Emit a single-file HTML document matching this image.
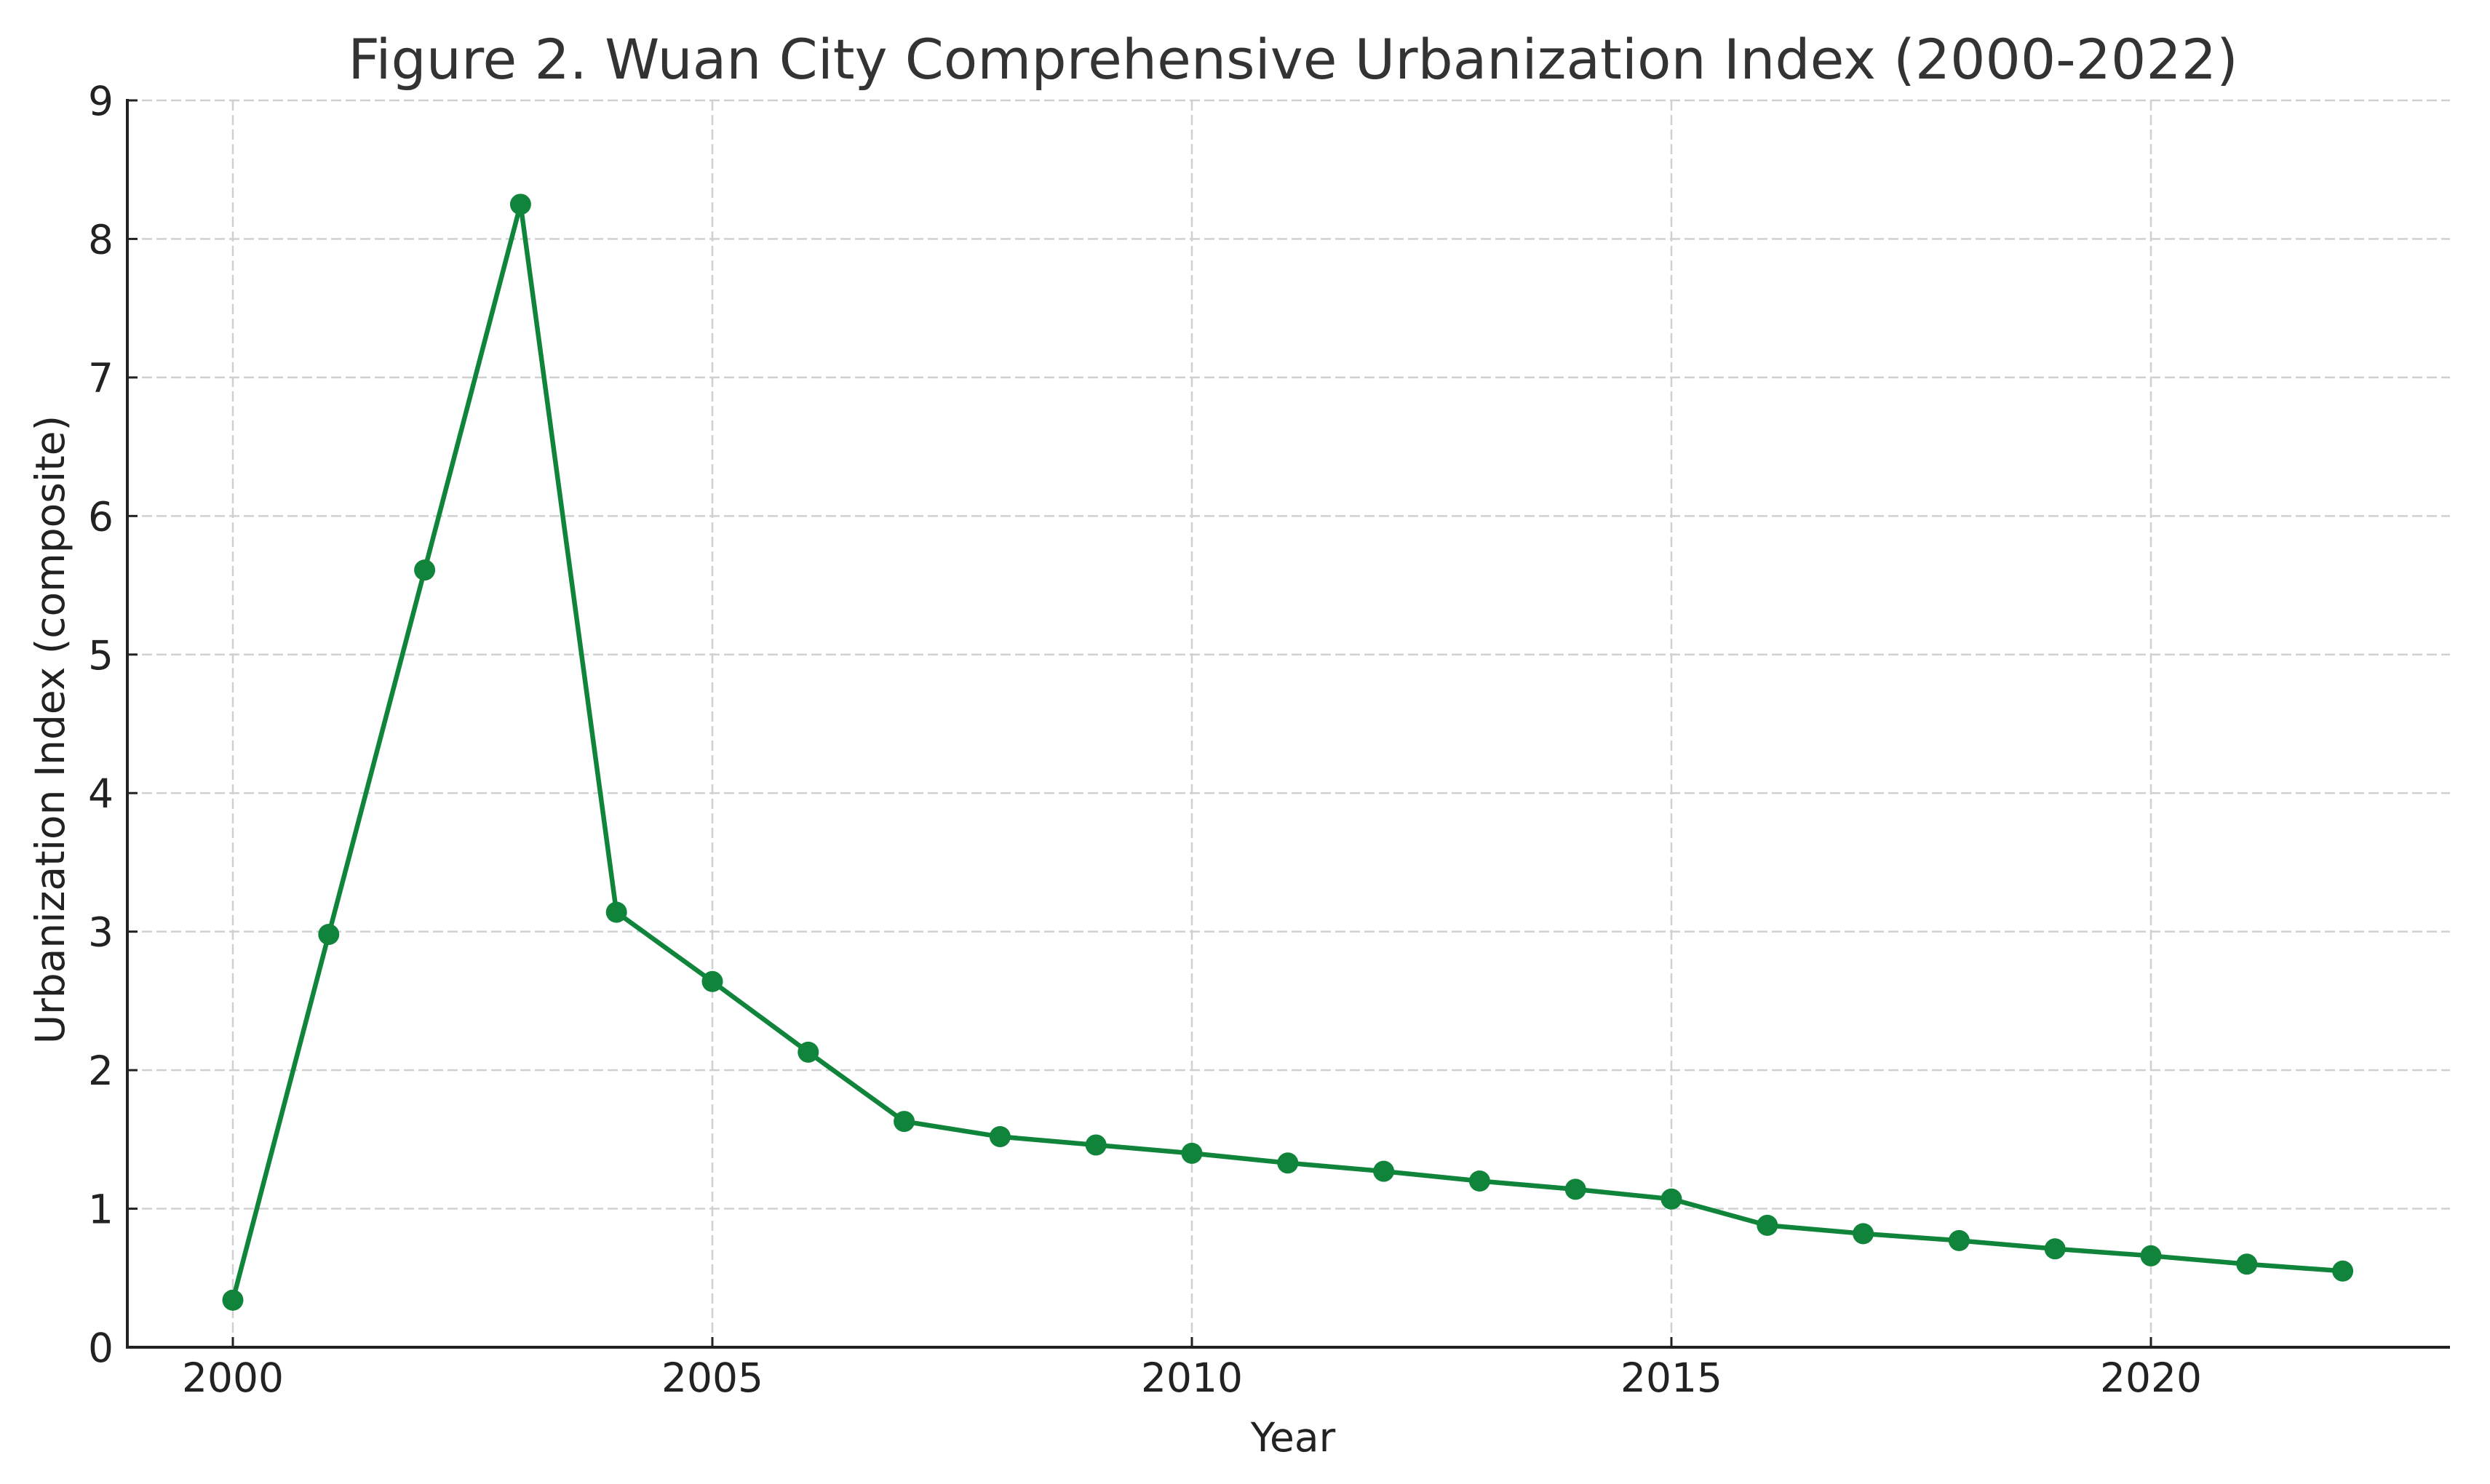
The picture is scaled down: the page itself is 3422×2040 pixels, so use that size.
<!DOCTYPE html>
<html><head><meta charset="utf-8"><style>
html,body{margin:0;padding:0;background:#fff;}
svg{display:block;font-family:"DejaVu Sans","Liberation Sans",sans-serif;}
</style></head><body>
<svg id="chart" width="3422" height="2040" viewBox="0 0 3422 2040" xmlns="http://www.w3.org/2000/svg">
<rect width="3422" height="2040" fill="#fff"/>
<text x="1777" y="108" font-size="76" fill="#333" text-anchor="middle">Figure 2. Wuan City Comprehensive Urbanization Index (2000-2022)</text>
<g id="grid"></g>
<g id="axes"></g>
<g id="series"></g>
<text x="1777" y="1995" font-size="55" fill="#222" text-anchor="middle">Year</text>
<text transform="translate(88,1003) rotate(-90)" font-size="55" fill="#222" text-anchor="middle">Urbanization Index (composite)</text>
</svg>
<script>
const years = [2000,2001,2002,2003,2004,2005,2006,2007,2008,2009,2010,2011,2012,2013,2014,2015,2016,2017,2018,2019,2020,2021,2022];
const indexValues = [0.34,2.98,5.61,8.25,3.14,2.64,2.13,1.63,1.52,1.46,1.40,1.33,1.27,1.20,1.14,1.07,0.88,0.82,0.77,0.71,0.66,0.60,0.55];
const xTicks = [2000,2005,2010,2015,2020];
const yTicks = [0,1,2,3,4,5,6,7,8,9];

const NS = "http://www.w3.org/2000/svg";
const left = 175, right = 3367, y0px = 1852, y9px = 138;
function xScale(v){ return 320 + (v - 2000) * 131.8; }
function yScale(v){ return y0px - v * (y0px - y9px) / 9; }
function mk(tag, attrs, parent){
  const e = document.createElementNS(NS, tag);
  for (const k in attrs) e.setAttribute(k, attrs[k]);
  parent.appendChild(e);
  return e;
}
const grid = document.getElementById('grid');
const axes = document.getElementById('axes');
const series = document.getElementById('series');

xTicks.forEach(t => {
  const x = xScale(t);
  const g = mk('line', {x1:x, x2:x, y1:y9px, y2:y0px, stroke:'#d0d0d0', 'stroke-width':2.5, 'stroke-dasharray':'14,6'}, grid);
  
  
  const tk = mk('line', {x1:x, x2:x, y1:y0px, y2:y0px-14, stroke:'#222', 'stroke-width':3}, axes);
  
  
  const lb = mk('text', {x:x, y:1913, 'font-size':55, fill:'#222', 'text-anchor':'middle'}, axes);
  lb.textContent = t;
  
  
});
yTicks.forEach(t => {
  const y = yScale(t);
  if (t > 0) {
    const g = mk('line', {x1:left, x2:right, y1:y, y2:y, stroke:'#d0d0d0', 'stroke-width':2.5, 'stroke-dasharray':'14,6'}, grid);
    
    
  }
  const tk = mk('line', {x1:left, x2:left+14, y1:y, y2:y, stroke:'#222', 'stroke-width':3}, axes);
  
  
  const lb = mk('text', {x:156, y:y+20, 'font-size':55, fill:'#222', 'text-anchor':'end'}, axes);
  lb.textContent = t;
  
  
});
const ya = mk('line', {x1:left, x2:left, y1:y9px-2, y2:y0px+2, stroke:'#222', 'stroke-width':4}, axes);


const xa = mk('line', {x1:left-2, x2:right, y1:y0px, y2:y0px, stroke:'#222', 'stroke-width':4}, axes);



const pts = years.map((yr,i) => xScale(yr) + ',' + yScale(indexValues[i])).join(' ');
const line = mk('polyline', {points:pts, fill:'none', stroke:'#11843b', 'stroke-width':6.5, 'stroke-linejoin':'round'}, series);


years.forEach((yr,i) => {
  const c = mk('circle', {cx:xScale(yr), cy:yScale(indexValues[i]), r:14.5, fill:'#11843b'}, series);
  
  
});
</script>
</body></html>
